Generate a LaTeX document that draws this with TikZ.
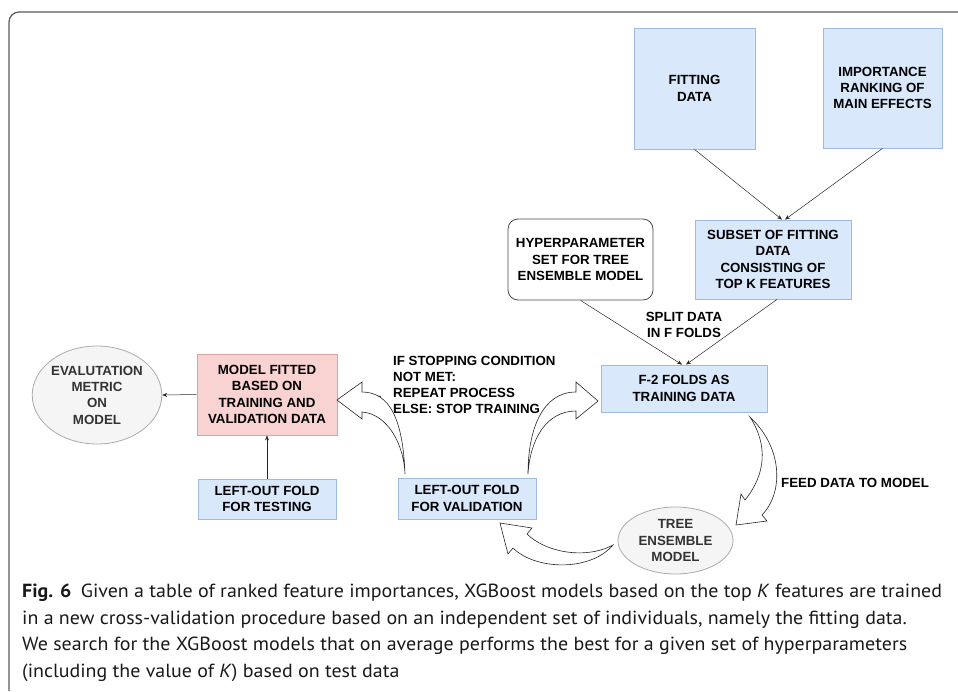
\documentclass[tikz,border=0pt]{standalone}
\usepackage{fontspec}
\setmainfont{Liberation Sans}
\newfontfamily\capfont[FakeStretch=1.05]{PT Sans}
\usetikzlibrary{arrows.meta,shapes.geometric}
\definecolor{boxblue}{HTML}{DAE8FC}
\definecolor{boxblueline}{HTML}{9DBAE3}
\definecolor{boxpink}{HTML}{F8D3D1}
\definecolor{boxpinkline}{HTML}{DDA3A1}
\definecolor{ellfill}{HTML}{F5F5F5}
\definecolor{ellline}{HTML}{ABABAB}
\definecolor{frameline}{HTML}{5A5A5A}
\tikzset{%
  flowbox/.style = {
    draw = boxblueline, fill = boxblue, line width = 0.8pt,
    align = center, inner sep = 0pt,
    font = \bfseries\fontsize{13.3}{16.3}\selectfont,
  },
  pinkbox/.style = {flowbox, draw = boxpinkline, fill = boxpink},
  plainbox/.style = {flowbox, draw = black!70, fill = white, rounded corners = 10pt},
  grayell/.style = {flowbox, ellipse, draw = ellline, fill = ellfill, text = black!80},
  steplabel/.style = {align = left, inner sep = 0pt,
    font = \bfseries\fontsize{13.3}{16}\selectfont},
  thinarrow/.style = {-{Stealth[length=5pt,width=4pt]}, line width = 0.5pt, draw = black!85},
  blockarrow/.style = {draw = black!85, fill = white, line width = 0.6pt},
}

\begin{document}
\begin{tikzpicture}[x=1pt,y=-1pt]
\useasboundingbox (0,0) rectangle (958,691);
% frame
\draw[frameline, line width=1.2pt, rounded corners=10pt] (9,691) -- (9,12) -- (958,12);

\node[flowbox, minimum width=121pt, minimum height=121pt] (fit) at (694.5,88.5) {FITTING\\DATA};
\node[flowbox, minimum width=119pt, minimum height=120pt] (imp) at (882.5,88) {IMPORTANCE\\RANKING OF\\MAIN EFFECTS};
\node[flowbox, minimum width=156pt, minimum height=79pt] (subset) at (773,259.5) {SUBSET OF FITTING\\DATA\\CONSISTING OF\\TOP K FEATURES};
\node[plainbox, minimum width=145pt, minimum height=81pt] (hyper) at (580.5,259.5) {HYPERPARAMETER\\SET FOR TREE\\ENSEMBLE MODEL};
\node[flowbox, minimum width=166pt, minimum height=47pt] (ftrain) at (684,388.5) {F-2 FOLDS AS\\TRAINING DATA};
\node[pinkbox, minimum width=140pt, minimum height=81pt] (model) at (267,394.5) {MODEL FITTED\\BASED ON\\TRAINING AND\\VALIDATION DATA};
\node[grayell, minimum width=120pt, minimum height=98pt] (eval) at (97,395) {EVALUTATION\\METRIC\\ON\\MODEL};
\node[flowbox, minimum width=138pt, minimum height=40pt] (test) at (267,499) {LEFT-OUT FOLD\\FOR TESTING};
\node[flowbox, minimum width=138pt, minimum height=41pt] (val) at (467,498.5) {LEFT-OUT FOLD\\FOR VALIDATION};
\node[grayell, minimum width=115pt, minimum height=67pt] (tree) at (675.5,540.5) {TREE\\ENSEMBLE\\MODEL};

% labels
\node[steplabel, align=center] (split) at (684,325) {SPLIT DATA\\IN F FOLDS};
\node[steplabel, anchor=west] (stop) at (393,385) {IF STOPPING CONDITION\\NOT MET:\\REPEAT PROCESS\\ELSE: STOP TRAINING};
\node[steplabel] (elselbl) at (364,401) {ELSE};
\node[steplabel] (iflbl) at (570,401) {IF};
\node[steplabel, anchor=west] (feed) at (781,483) {FEED DATA TO MODEL};

% plain connectors
\draw[thinarrow] (fit.south) -- ([xshift=9pt]subset.north);
\draw[thinarrow] (imp.south) -- ([xshift=12pt]subset.north);
\draw[thinarrow] (hyper.south) -- ([xshift=-2pt]ftrain.north);
\draw[thinarrow] ([xshift=4pt]subset.south) -- ([xshift=2pt]ftrain.north);
\draw[thinarrow] (model.west) -- (eval.east);
\draw[thinarrow] (test.north) -- (model.south);

% curved block arrows
\coordinate (elseS) at (405,474);
\coordinate (ifS) at (528,474);
\coordinate (feedS) at (750,417);
\coordinate (treeS) at (613,545);
\draw[blockarrow] (elseS) .. controls (403,420) and (390,392) .. (362,392) -- (362,382)
  -- (337,400) -- (362,419) -- (362,412) .. controls (388,414) and (404,445) .. (elseS) -- cycle;
\draw[blockarrow] (ifS) .. controls (528,430) and (542,392) .. (576,392) -- (576,382)
  -- (598,401) -- (576,419) -- (576,411) .. controls (546,411) and (530,440) .. (ifS) -- cycle;
\draw[blockarrow] (feedS) .. controls (785,450) and (782,495) .. (762,515) -- (767,521)
  -- (736,525) -- (741,494) -- (745,500) .. controls (766,474) and (768,445) .. (feedS) -- cycle;
\draw[blockarrow] (treeS) .. controls (585,560) and (545,552) .. (527,534) -- (532,528)
  -- (500,523) -- (508,554) -- (513,548) .. controls (535,570) and (590,572) .. (treeS) -- cycle;

% caption
\node[anchor=north west, align=left, inner sep=0pt, text=black!90,
  font=\capfont\fontsize{19}{26.5}\selectfont] (caption) at (22,584)
  {{\bfseries Fig. 6}\enspace Given a table of ranked feature importances, XGBoost models based on the top \textit{K} features are trained\\
  in a new cross-validation procedure based on an independent set of individuals, namely the fitting data.\\
  We search for the XGBoost models that on average performs the best for a given set of hyperparameters\\
  (including the value of \textit{K}) based on test data};
\end{tikzpicture}
\end{document}
